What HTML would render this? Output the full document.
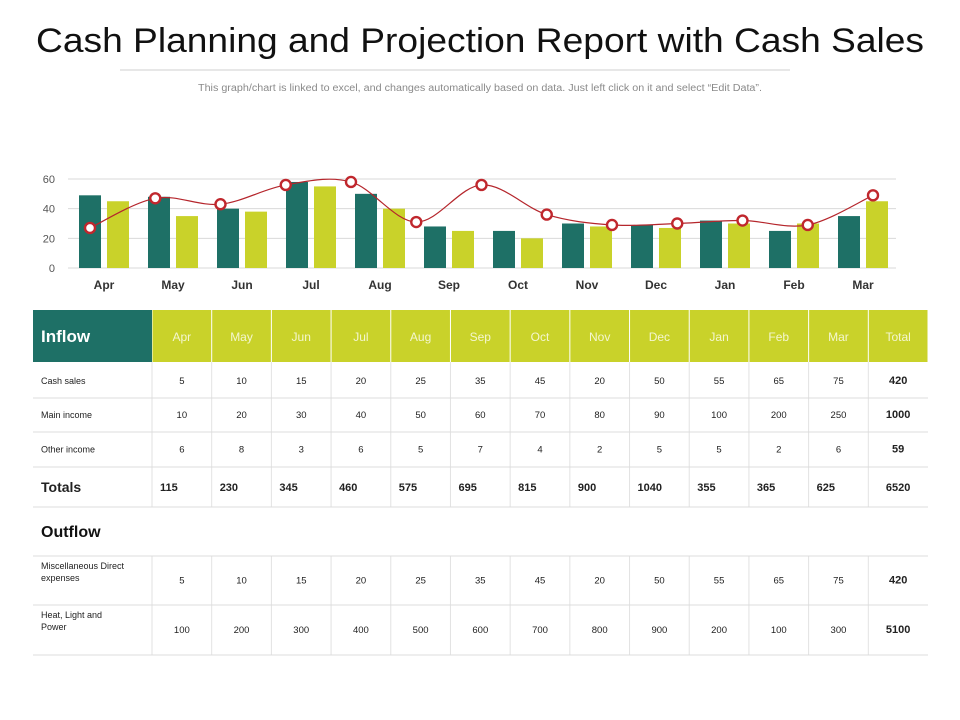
<!DOCTYPE html>
<html><head><meta charset="utf-8"><style>
body{margin:0;background:#fff;}
svg{display:block;font-family:"Liberation Sans",Arial,sans-serif;}
</style></head><body>
<svg id="s" width="960" height="720" viewBox="0 0 960 720">
<text x="480" y="52" text-anchor="middle" font-size="34" textLength="888" lengthAdjust="spacingAndGlyphs" fill="#111">Cash Planning and Projection Report with Cash Sales</text>
<line x1="120" y1="70" x2="790" y2="70" stroke="#cfcfcf" stroke-width="1"/>
<text x="480" y="91" text-anchor="middle" font-size="10" textLength="564" lengthAdjust="spacingAndGlyphs" fill="#8a8a8a">This graph/chart is linked to excel, and changes automatically  based on data. Just left click on it and select “Edit Data”.</text>
<g id="chart"></g>
<g id="table"></g>
</svg>
<script>
const months=["Apr","May","Jun","Jul","Aug","Sep","Oct","Nov","Dec","Jan","Feb","Mar"];
const seriesA=[49,48,40,58,50,28,25,30,29,32,25,35];
const seriesB=[45,35,38,55,40,25,20,28,27,30,30,45];
const lineVals=[27,47,43,56,58,31,56,36,29,30,32,29,49];
const yTicks=[0,20,40,60];
const cashSales=[5,10,15,20,25,35,45,20,50,55,65,75,420];
const mainIncome=[10,20,30,40,50,60,70,80,90,100,200,250,1000];
const otherIncome=[6,8,3,6,5,7,4,2,5,5,2,6,59];
const totals=[115,230,345,460,575,695,815,900,1040,355,365,625,6520];
const miscExp=[5,10,15,20,25,35,45,20,50,55,65,75,420];
const heatPower=[100,200,300,400,500,600,700,800,900,200,100,300,5100];

const NS="http://www.w3.org/2000/svg";
function mk(p,t,a,txt){const e=document.createElementNS(NS,t);for(const k in a)e.setAttribute(k,a[k]);if(txt!==undefined)e.textContent=txt;p.appendChild(e);return e;}
const chart=document.getElementById('chart');
const X0=68,X1=896,gw=(X1-X0)/months.length;
const y=v=>268-v*(89/60);
const gx=i=>X0+i*gw;
yTicks.forEach(t=>{
 const l=mk(chart,'line',{x1:X0,x2:X1,y1:y(t),y2:y(t),stroke:'#d9d9d9','stroke-width':1});
 
 
 const tx=mk(chart,'text',{x:55,y:y(t)+4,'text-anchor':'end','font-size':11,fill:'#555'},String(t));
 
 
});
months.forEach((m,i)=>{
 const a=mk(chart,'rect',{x:gx(i)+11,y:y(seriesA[i]),width:22,height:y(0)-y(seriesA[i]),fill:'#1e7066'});
 
 
 const b=mk(chart,'rect',{x:gx(i)+39,y:y(seriesB[i]),width:22,height:y(0)-y(seriesB[i]),fill:'#c9d22a'});
 
 
 const t=mk(chart,'text',{x:gx(i)+36,y:289,'text-anchor':'middle','font-size':12,'font-weight':'bold',fill:'#333'},m);
 
 
});
const lx0=90,lx1=873,ls=(lx1-lx0)/(lineVals.length-1);
const pts=lineVals.map((v,i)=>[lx0+i*ls,y(v)]);
let d='M'+pts[0][0]+','+pts[0][1];
for(let i=0;i<pts.length-1;i++){
 const p0=pts[i-1]||pts[i],p1=pts[i],p2=pts[i+1],p3=pts[i+2]||p2;
 const c1=[p1[0]+(p2[0]-p0[0])/6,p1[1]+(p2[1]-p0[1])/6];
 const c2=[p2[0]-(p3[0]-p1[0])/6,p2[1]-(p3[1]-p1[1])/6];
 d+=' C'+c1+' '+c2+' '+p2;
}
const ln=mk(chart,'path',{d:d,fill:'none',stroke:'#b5262c','stroke-width':1.2});


pts.forEach((p,i)=>{
 const c=mk(chart,'circle',{cx:p[0],cy:p[1],r:5,fill:'#fff',stroke:'#c0272d','stroke-width':2.4});
 
 
});

const tb=document.getElementById('table');
const L=33,C0=152,cw=(928-152)/13,R=928;
const cx=j=>C0+j*cw;
const hd=mk(tb,'rect',{x:L,y:310,width:C0-L,height:52,fill:'#1e7066'});


const ht=mk(tb,'text',{x:41,y:342,'font-size':17,'font-weight':'bold',fill:'#fff'},'Inflow');


const cols=months.concat(['Total']);
cols.forEach((m,j)=>{
 const r=mk(tb,'rect',{x:cx(j)+0.5,y:310,width:cw-1,height:52,fill:'#c9d22a'});
 
 
 const t=mk(tb,'text',{x:cx(j)+cw/2,y:341,'text-anchor':'middle','font-size':12,fill:'#f4f6d0'},m);
 
 
});
function hline(yy,nm){const l=mk(tb,'line',{x1:L,x2:R,y1:yy,y2:yy,stroke:'#dcdcdc','stroke-width':1});}
function vlines(y1,y2){for(let j=0;j<13;j++){const l=mk(tb,'line',{x1:cx(j),x2:cx(j),y1:y1,y2:y2,stroke:'#e2e2e2','stroke-width':1});}}
vlines(362,507);
vlines(556,655);
function row(label,vals,y1,y2,opt){
 const mid=(y1+y2)/2;
 if(Array.isArray(label)){
  label.forEach((s,k)=>{const t=mk(tb,'text',{x:41,y:y1+13+k*12,'font-size':9,fill:'#222'},s);});
 }else{
  const t=mk(tb,'text',{x:41,y:mid+(opt.big?5:3),'font-size':opt.big?14:9,'font-weight':opt.big?'bold':'normal',fill:'#222'},label);
  
  
 }
 vals.forEach((v,j)=>{
  const last=j===12;
  const a=opt.left&&!last?{x:cx(j)+8,'text-anchor':'start'}:{x:cx(j)+cw/2,'text-anchor':'middle'};
  const t=mk(tb,'text',Object.assign(a,{y:mid+(opt.big?4:3),'font-size':(last||opt.big)?11:9.5,'font-weight':(last||opt.big)?'bold':'normal',fill:'#222'}),String(v));
  
  
 });
 hline(y2,'row-divider');
}
row('Cash sales',cashSales,364,398,{});
row('Main income',mainIncome,398,432,{});
row('Other income',otherIncome,432,467,{});
row('Totals',totals,467,507,{big:true,left:true});
const ot=mk(tb,'text',{x:41,y:537,'font-size':16,'font-weight':'bold',fill:'#111'},'Outflow');


hline(556,'row-divider');
row(['Miscellaneous  Direct','expenses'],miscExp,556,605,{});
row(['Heat,  Light and','Power'],heatPower,605,655,{});
</script>
</body></html>
